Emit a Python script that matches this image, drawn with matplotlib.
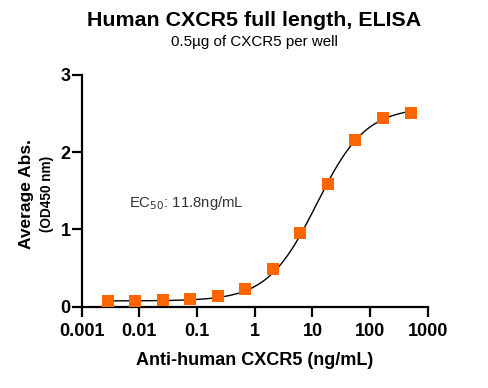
import numpy as np
import matplotlib.pyplot as plt

plt.rcParams['font.family'] = ['Liberation Sans', 'DejaVu Sans']

# antibody concentration (ng/mL), 3-fold dilutions
conc = [500, 166.7, 55.56, 18.52, 6.173, 2.058, 0.686, 0.2286, 0.0762, 0.0254, 0.00847, 0.00282]
absorb = [2.51, 2.445, 2.15, 1.59, 0.955, 0.49, 0.23, 0.14, 0.10, 0.088, 0.078, 0.072]

bottom = 0.075
top = 2.58
ec50 = 11.8
hill = 1.02

xfit = np.logspace(np.log10(min(conc)), np.log10(max(conc)), 300)
yfit = bottom + (top - bottom) / (1 + (ec50 / xfit) ** hill)

fig = plt.figure(figsize=(4.89, 3.88), dpi=100)
ax = fig.add_axes([0.167, 0.2095, 0.708, 0.598])

ax.plot(xfit, yfit, color='black', lw=1.0, zorder=2)
ax.plot(conc, absorb, 's', color='#FF6600', markersize=8.5, markeredgewidth=0, zorder=3)

ax.set_xscale('log')
ax.set_xlim(0.001, 1000)
ax.set_ylim(0, 3)
ax.set_xticks([0.001, 0.01, 0.1, 1, 10, 100, 1000])
ax.set_xticklabels(['0.001', '0.01', '0.1', '1', '10', '100', '1000'])
ax.minorticks_off()
ax.set_yticks([0, 1, 2, 3])
ax.set_yticklabels(['0', '1', '2', '3'])

for s in ['top', 'right']:
    ax.spines[s].set_visible(False)
for s in ['left', 'bottom']:
    ax.spines[s].set_linewidth(1.6)
ax.spines['left'].set_bounds(0, 3)
ax.tick_params(axis='both', width=1.6, length=7, labelsize=13)
ax.tick_params(axis='x', pad=5)
ax.tick_params(axis='y', pad=1)
for lab in ax.get_xticklabels() + ax.get_yticklabels():
    lab.set_fontweight('bold')
ax.patch.set_visible(False)
ax.set_clip_on(False)

ax.text(0.0066, 1.345, 'EC$_{50}$: 11.8ng/mL', fontsize=10.7, color='#333333', va='center')

fig.text(0.52, 0.947, 'Human CXCR5 full length, ELISA', ha='center', va='center',
         fontsize=15.4, fontweight='bold')
fig.text(0.52, 0.893, '0.5\u00b5g of CXCR5 per well', ha='center', va='center', fontsize=10.9)

fig.text(0.055, 0.5, 'Average Abs.', rotation=90, ha='center', va='center',
         fontsize=12.5, fontweight='bold')
fig.text(0.096, 0.5, '(OD450 nm)', rotation=90, ha='center', va='center',
         fontsize=9.8, fontweight='bold')
fig.text(0.52, 0.072, 'Anti-human CXCR5 (ng/mL)', ha='center', va='center',
         fontsize=13, fontweight='bold')

fig.savefig('out.png', dpi=100)
